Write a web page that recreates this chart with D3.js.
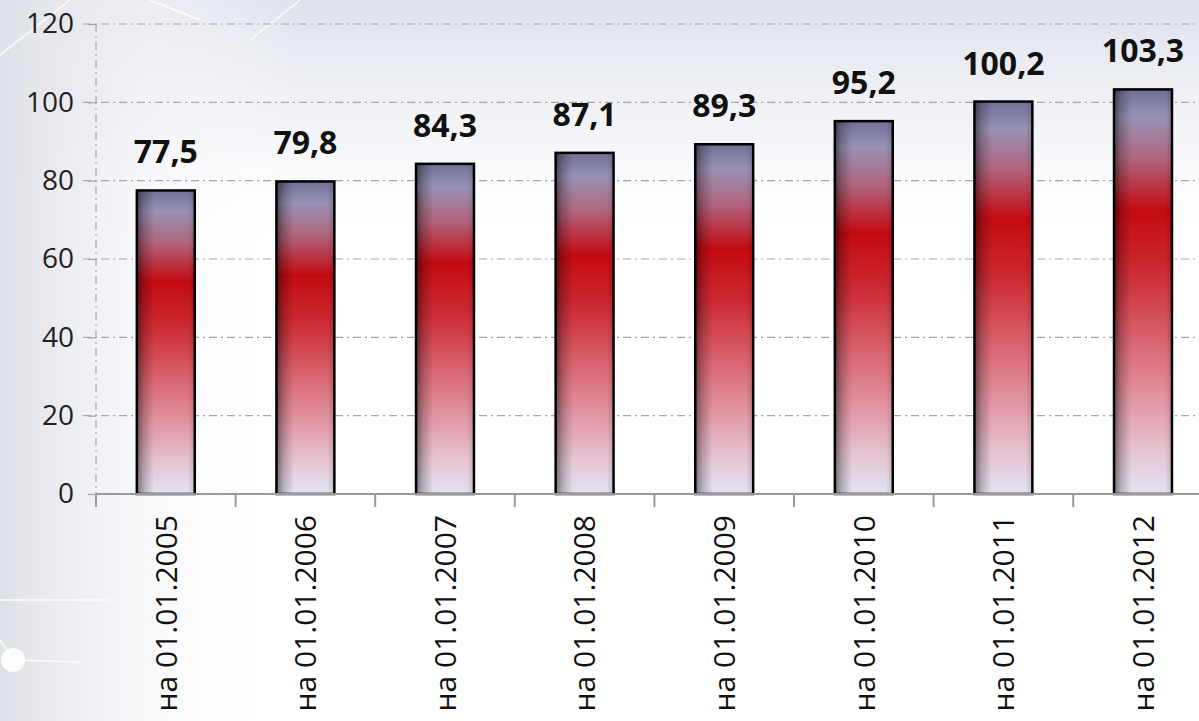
<!DOCTYPE html>
<html>
<head>
<meta charset="utf-8">
<title>Bar chart</title>
<script src="https://cdn.jsdelivr.net/npm/d3@7/dist/d3.min.js"></script>
<style>
  body { margin: 0; overflow: hidden; background: #fff; }
  text { font-family: "Open Sans", "Noto Sans", sans-serif; }
</style>
</head>
<body>
<script>
  // data
  var categories = ["на 01.01.2005", "на 01.01.2006", "на 01.01.2007", "на 01.01.2008",
                    "на 01.01.2009", "на 01.01.2010", "на 01.01.2011", "на 01.01.2012"];
  var values = [77.5, 79.8, 84.3, 87.1, 89.3, 95.2, 100.2, 103.3];
  var valueLabels = ["77,5", "79,8", "84,3", "87,1", "89,3", "95,2", "100,2", "103,3"];
  var yTicks = [0, 20, 40, 60, 80, 100, 120];

  var width = 1199, height = 721;
  var svg = d3.select("body").append("svg")
      .attr("width", width)
      .attr("height", height);

  var defs = svg.append("defs");

  // background: white, with a pale grey-blue wash along the top and left
  var bgTop = defs.append("linearGradient").attr("id", "bgTop")
      .attr("x1", 0).attr("y1", 0).attr("x2", 0).attr("y2", 1);
  bgTop.append("stop").attr("offset", 0).attr("stop-color", "#dfe2ec").attr("stop-opacity", 1);
  bgTop.append("stop").attr("offset", 0.2).attr("stop-color", "#eef0f5").attr("stop-opacity", 0.6);
  bgTop.append("stop").attr("offset", 0.35).attr("stop-color", "#ffffff").attr("stop-opacity", 0);
  var bgLeft = defs.append("linearGradient").attr("id", "bgLeft")
      .attr("x1", 0).attr("y1", 0).attr("x2", 1).attr("y2", 0);
  bgLeft.append("stop").attr("offset", 0).attr("stop-color", "#dfe1e8").attr("stop-opacity", 1);
  bgLeft.append("stop").attr("offset", 0.12).attr("stop-color", "#f3f4f7").attr("stop-opacity", 0.6);
  bgLeft.append("stop").attr("offset", 0.25).attr("stop-color", "#ffffff").attr("stop-opacity", 0);

  // bar fill: grey-blue top, red band, fading to pink and pale lavender
  var fill = defs.append("linearGradient").attr("id", "barFill")
      .attr("x1", 0).attr("y1", 0).attr("x2", 0).attr("y2", 1);
  [[0, "#6f7198"], [0.07, "#9892b4"], [0.17, "#b0667e"], [0.3, "#c40a12"],
   [0.45, "#cc2a33"], [0.62, "#d9646f"], [0.78, "#e29aa8"], [0.9, "#e6c6d3"], [1, "#e2e4f3"]]
    .forEach(function(s) {
      fill.append("stop").attr("offset", s[0]).attr("stop-color", s[1]);
    });

  // side shading on the bars
  var shade = defs.append("linearGradient").attr("id", "barShade")
      .attr("x1", 0).attr("y1", 0).attr("x2", 1).attr("y2", 0);
  shade.append("stop").attr("offset", 0).attr("stop-color", "#000").attr("stop-opacity", 0.5);
  shade.append("stop").attr("offset", 0.12).attr("stop-color", "#000").attr("stop-opacity", 0.22);
  shade.append("stop").attr("offset", 0.3).attr("stop-color", "#000").attr("stop-opacity", 0);
  shade.append("stop").attr("offset", 0.88).attr("stop-color", "#000").attr("stop-opacity", 0);
  shade.append("stop").attr("offset", 1).attr("stop-color", "#000").attr("stop-opacity", 0.15);

  svg.append("rect").attr("width", width).attr("height", height).attr("fill", "#ffffff");
  svg.append("rect").attr("width", width).attr("height", height).attr("fill", "url(#bgTop)");
  svg.append("rect").attr("width", width).attr("height", height).attr("fill", "url(#bgLeft)");

  // a few faint decorative strokes in the background
  var deco = svg.append("g").attr("stroke", "#ffffff").attr("stroke-width", 1.5).attr("opacity", 0.9);
  deco.append("line").attr("x1", 0).attr("y1", 55).attr("x2", 70).attr("y2", 0);
  deco.append("line").attr("x1", 150).attr("y1", 0).attr("x2", 200).attr("y2", 20);
  deco.append("line").attr("x1", 250).attr("y1", 40).attr("x2", 300).attr("y2", 0);
  deco.append("line").attr("x1", 0).attr("y1", 600).attr("x2", 110).attr("y2", 600);
  deco.append("line").attr("x1", 0).attr("y1", 640).attr("x2", 14).attr("y2", 660);
  deco.append("line").attr("x1", 14).attr("y1", 660).attr("x2", 80).attr("y2", 662);
  svg.append("circle").attr("cx", 13).attr("cy", 660).attr("r", 12)
      .attr("fill", "#ffffff").attr("opacity", 0.95);

  var x0 = 96, bandW = 139.6;
  var x = d3.scaleBand()
      .domain(categories)
      .range([x0, x0 + bandW * categories.length])
      .paddingInner(0.585)
      .paddingOuter(0.2925);

  var y = d3.scaleLinear().domain([0, 120]).range([494, 24]);

  // dash-dot grid lines
  svg.append("g").selectAll("line")
      .data(yTicks.filter(function(d) { return d > 0; }))
      .enter().append("line")
      .attr("x1", 83).attr("x2", width)
      .attr("y1", function(d) { return y(d); })
      .attr("y2", function(d) { return y(d); })
      .attr("stroke", "#a6a6a6")
      .attr("stroke-width", 1.2)
      .attr("stroke-dasharray", "8,4,2,4");

  // y axis (dash-dot, like the grid)
  svg.append("line")
      .attr("x1", x0).attr("x2", x0)
      .attr("y1", y(120)).attr("y2", y(0))
      .attr("stroke", "#a6a6a6")
      .attr("stroke-width", 1.2)
      .attr("stroke-dasharray", "8,4,2,4");

  var yAxis = svg.append("g")
      .attr("transform", "translate(" + x0 + ",0)")
      .call(d3.axisLeft(y).tickValues(yTicks).tickSize(8).tickPadding(14));
  yAxis.select(".domain").remove();
  yAxis.selectAll(".tick line").attr("stroke", "#a6a6a6").attr("stroke-width", 1.2);
  yAxis.selectAll(".tick text")
      .attr("font-size", 28)
      .attr("fill", "#222")
      .style("font-family", "'Open Sans', sans-serif");

  // bars
  var bars = svg.append("g");
  bars.selectAll(".bar")
      .data(values)
      .enter().append("rect")
      .attr("class", "bar")
      .attr("x", function(d, i) { return x(categories[i]); })
      .attr("y", function(d) { return y(d); })
      .attr("width", x.bandwidth())
      .attr("height", function(d) { return y(0) - y(d); })
      .attr("fill", "url(#barFill)");
  bars.selectAll(".shade")
      .data(values)
      .enter().append("rect")
      .attr("class", "shade")
      .attr("x", function(d, i) { return x(categories[i]); })
      .attr("y", function(d) { return y(d); })
      .attr("width", x.bandwidth())
      .attr("height", function(d) { return y(0) - y(d); })
      .attr("fill", "url(#barShade)")
      .attr("stroke", "#000")
      .attr("stroke-width", 2.5);

  // x axis: solid grey line with ticks between categories
  svg.append("line")
      .attr("x1", x0).attr("x2", width)
      .attr("y1", y(0)).attr("y2", y(0))
      .attr("stroke", "#9a9a9a").attr("stroke-width", 2);
  svg.append("g").selectAll("line")
      .data(d3.range(categories.length + 1))
      .enter().append("line")
      .attr("x1", function(i) { return x0 + i * bandW; })
      .attr("x2", function(i) { return x0 + i * bandW; })
      .attr("y1", y(0)).attr("y2", y(0) + 13)
      .attr("stroke", "#9a9a9a").attr("stroke-width", 2);

  // category labels, rotated to read bottom-up
  svg.append("g").selectAll("text")
      .data(categories)
      .enter().append("text")
      .attr("transform", function(d) {
        return "translate(" + (x(d) + x.bandwidth() / 2) + "," + (y(0) + 21) + ") rotate(-90)";
      })
      .attr("text-anchor", "end")
      .attr("dy", "0.36em")
      .attr("font-size", 30)
      .attr("fill", "#111")
      .text(function(d) { return d; });

  // value labels
  svg.append("g").selectAll("text")
      .data(values)
      .enter().append("text")
      .attr("x", function(d, i) { return x(categories[i]) + x.bandwidth() / 2; })
      .attr("y", function(d) { return y(d) - 27; })
      .attr("text-anchor", "middle")
      .attr("font-size", 32)
      .attr("font-weight", "bold")
      .attr("fill", "#111")
      .text(function(d, i) { return valueLabels[i]; });
</script>
</body>
</html>
